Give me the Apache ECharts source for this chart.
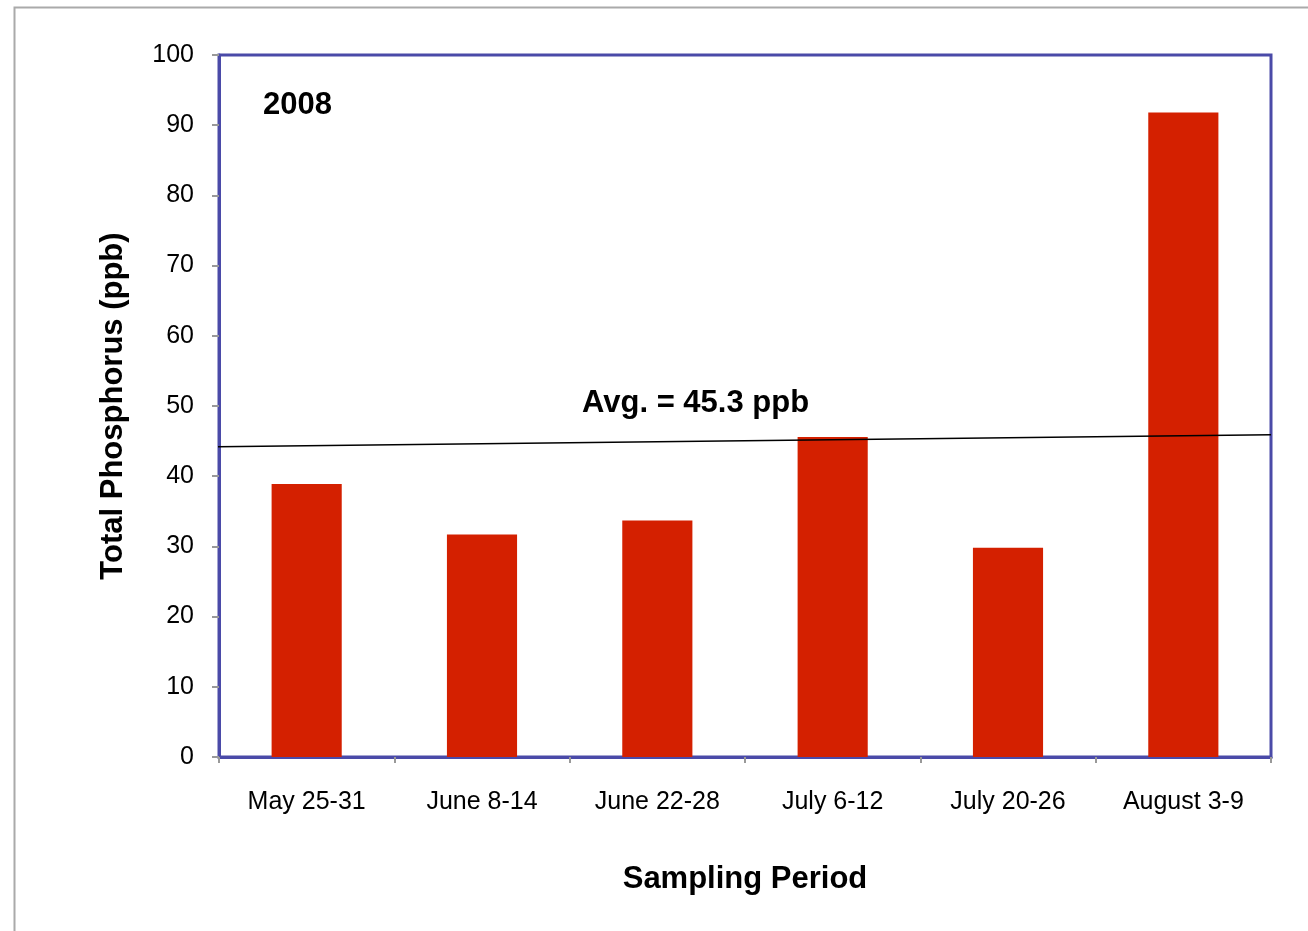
<!DOCTYPE html>
<html>
<head>
<meta charset="utf-8">
<title>Total Phosphorus 2008</title>
<script src="https://cdn.jsdelivr.net/npm/echarts@6/dist/echarts.min.js"></script>
<style>
  html, body { margin: 0; padding: 0; background: #fff; }
  #chart { width: 1308px; height: 931px; }
</style>
</head>
<body>
<div id="chart"></div>
<script>
// data
var periods = ['May 25-31', 'June 8-14', 'June 22-28', 'July 6-12', 'July 20-26', 'August 3-9']
var phosphorus = [38.9, 31.7, 33.7, 45.6, 29.8, 91.8]
var yTicks = [0, 10, 20, 30, 40, 50, 60, 70, 80, 90, 100]
// the drawn average line (slightly tilted in the original), start and end
var avgLine = [[-0.0067, 44.2], [1, 45.9]]

var font = 'Liberation Sans, Arial, Helvetica, sans-serif'
var frameColor = '#4a4aa8'

var chart = echarts.init(document.getElementById('chart'))

chart.setOption({
  animation: false,
  textStyle: { fontFamily: font },
  grid: {
    left: 219,
    top: 55,
    right: 37,
    bottom: 174,
    show: true,
    borderColor: frameColor,
    borderWidth: 3
  },
  graphic: [
    {
      type: 'rect',
      shape: { x: 14.5, y: 7.5, width: 1400, height: 1000 },
      style: { fill: 'none', stroke: '#aaa', lineWidth: 2 },
      silent: true
    },
    {
      type: 'text',
      left: 263,
      top: 90,
      style: { text: '2008', font: 'bold 31px ' + font, fill: '#000' }
    },
    {
      type: 'text',
      left: 582,
      top: 388,
      style: { text: 'Avg. = 45.3 ppb', font: 'bold 31px ' + font, fill: '#000' }
    }
  ],
  xAxis: [
    {
      type: 'category',
      data: periods,
      name: 'Sampling Period',
      nameLocation: 'middle',
      nameGap: 107,
      nameTextStyle: { fontSize: 31, fontWeight: 'bold', color: '#000' },
      axisLine: { lineStyle: { color: frameColor, width: 3 } },
      axisTick: { show: true, length: 6, lineStyle: { color: '#999', width: 2 } },
      axisLabel: { fontSize: 25, color: '#000', margin: 33 },
      splitLine: { show: false }
    },
    {
      type: 'value',
      min: 0,
      max: 1,
      show: false
    }
  ],
  yAxis: {
    type: 'value',
    min: 0,
    max: 100,
    interval: 10,
    name: 'Total Phosphorus (ppb)',
    nameLocation: 'middle',
    nameRotate: 90,
    nameGap: 90,
    nameTextStyle: { fontSize: 31, fontWeight: 'bold', color: '#000' },
    axisLine: { show: true, lineStyle: { color: frameColor, width: 3 } },
    axisTick: { show: true, length: 7, lineStyle: { color: '#999', width: 2 } },
    axisLabel: {
      fontSize: 25,
      color: '#000',
      margin: 25,
      padding: [6, 0, 0, 0],
      formatter: function (v) { return yTicks.indexOf(v) >= 0 ? String(v) : '' }
    },
    splitLine: { show: false }
  },
  series: [
    {
      type: 'bar',
      data: phosphorus,
      barWidth: '40%',
      itemStyle: { color: '#d42000' }
    },
    {
      type: 'line',
      xAxisIndex: 1,
      data: avgLine,
      symbol: 'none',
      clip: false,
      lineStyle: { color: '#000', width: 1.5 },
      z: 5
    }
  ]
})
</script>
</body>
</html>
